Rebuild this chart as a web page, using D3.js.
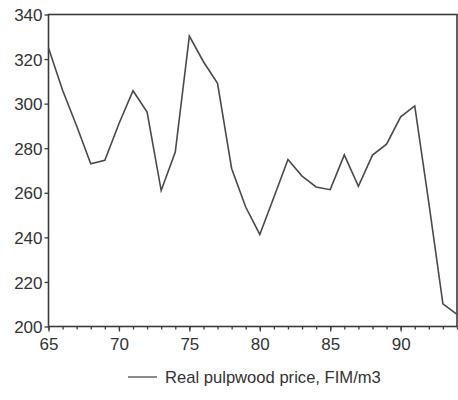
<!DOCTYPE html>
<html>
<head>
<meta charset="utf-8">
<script src="https://cdn.jsdelivr.net/npm/d3@7"></script>
<style>
  body { margin: 0; background: #fff; }
  svg { display: block; }
</style>
</head>
<body>
<div id="chart"></div>
<script>
// Years and real pulpwood price (FIM/m3)
var years = [65, 66, 67, 68, 69, 70, 71, 72, 73, 74, 75, 76, 77, 78, 79,
             80, 81, 82, 83, 84, 85, 86, 87, 88, 89, 90, 91, 92, 93, 94];
var price = [325, 306, 290, 273, 274.6, 291, 305.8, 296.2, 261, 278.3, 330.3, 318.8, 309.1, 270.9, 253.6,
             241.3, 258, 274.9, 267.5, 262.6, 261.4, 277, 262.9, 276.9, 281.8, 294.1, 299, 255.5, 210.2, 205.4];
var yTicks = [200, 220, 240, 260, 280, 300, 320, 340];
var xTicks = [65, 70, 75, 80, 85, 90];

var margin = { top: 14.5, right: 1, bottom: 73.5, left: 48.5 },
    width = 458 - margin.left - margin.right,
    height = 400 - margin.top - margin.bottom;

var x = d3.scaleLinear().domain([65, 94]).range([0, width]);
var y = d3.scaleLinear().domain([200, 340]).range([height, 0]);

var svg = d3.select("#chart")
    .append("svg")
    .attr("width", 458)
    .attr("height", 400)
    .append("g")
    .attr("transform", "translate(" + margin.left + "," + margin.top + ")");

var ink = "#3a3a3a";

// frame
svg.append("rect")
    .attr("x", 0).attr("y", 0)
    .attr("width", width).attr("height", height)
    .attr("fill", "none")
    .attr("stroke", ink)
    .attr("stroke-width", 1.6);

// minor x ticks (every year)
var minor = svg.append("g")
    .attr("transform", "translate(0," + height + ")")
    .call(d3.axisBottom(x).tickValues(years).tickSize(3).tickFormat(""));

// major x ticks
var xAxis = svg.append("g")
    .attr("transform", "translate(0," + height + ")")
    .call(d3.axisBottom(x).tickValues(xTicks).tickSize(5).tickPadding(6));

var yAxis = svg.append("g")
    .call(d3.axisLeft(y).tickValues(yTicks).tickSize(4).tickPadding(2));

[minor, xAxis, yAxis].forEach(function(g) {
    g.select(".domain").remove();
    g.selectAll("line").attr("stroke", ink).attr("stroke-width", 1.3);
    g.selectAll("text")
        .style("font-family", "Liberation Sans, Arial, sans-serif")
        .style("font-size", "17px")
        .attr("fill", "#333");
});
yAxis.selectAll("text").attr("dy", "0.36em");

// the series
var line = d3.line()
    .x(function(d, i) { return x(years[i]); })
    .y(function(d) { return y(d); });

svg.append("path")
    .datum(price)
    .attr("fill", "none")
    .attr("stroke", "#4a4a4a")
    .attr("stroke-width", 1.6)
    .attr("stroke-linejoin", "miter")
    .attr("d", line);

// legend
var legend = d3.select("svg").append("g")
    .attr("transform", "translate(128,377)");

legend.append("line")
    .attr("x1", 0).attr("x2", 29)
    .attr("y1", 0).attr("y2", 0)
    .attr("stroke", "#4a4a4a")
    .attr("stroke-width", 1.3);

legend.append("text")
    .attr("x", 37)
    .attr("y", 6)
    .text("Real pulpwood price, FIM/m3")
    .style("font-family", "Liberation Sans, Arial, sans-serif")
    .style("font-size", "16.6px")
    .attr("fill", "#333");
</script>
</body>
</html>
